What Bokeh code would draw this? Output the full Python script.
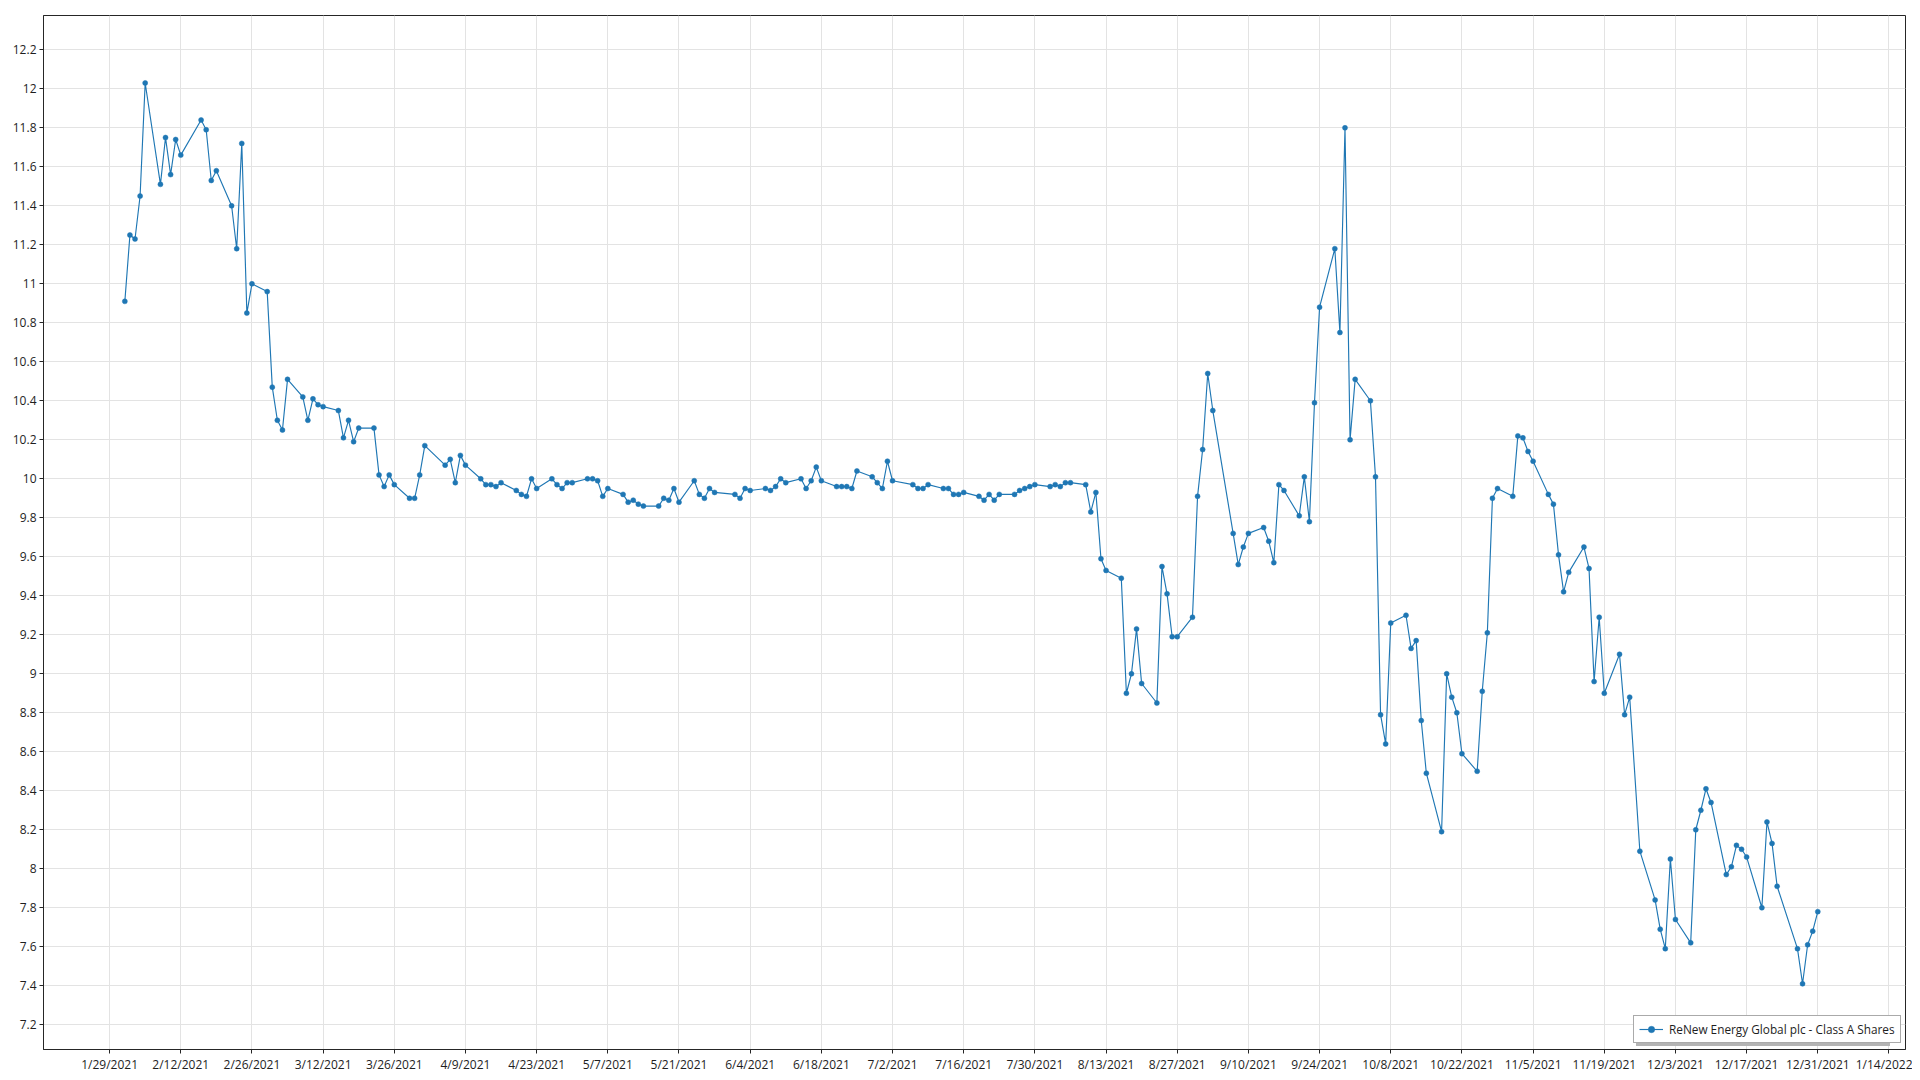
import pandas as pd
from bokeh.plotting import figure
from bokeh.models import Range1d, FixedTicker, Legend, LegendItem, ColumnDataSource
from bokeh.embed import file_html
from bokeh.resources import INLINE

series_name = "ReNew Energy Global plc - Class A Shares"

dates = [
    "2021-02-01", "2021-02-02", "2021-02-03", "2021-02-04", "2021-02-05",
    "2021-02-08", "2021-02-09", "2021-02-10", "2021-02-11", "2021-02-12",
    "2021-02-16", "2021-02-17", "2021-02-18", "2021-02-19",
    "2021-02-22", "2021-02-23", "2021-02-24", "2021-02-25", "2021-02-26",
    "2021-03-01", "2021-03-02", "2021-03-03", "2021-03-04", "2021-03-05",
    "2021-03-08", "2021-03-09", "2021-03-10", "2021-03-11", "2021-03-12",
    "2021-03-15", "2021-03-16", "2021-03-17", "2021-03-18", "2021-03-19",
    "2021-03-22", "2021-03-23", "2021-03-24", "2021-03-25", "2021-03-26",
    "2021-03-29", "2021-03-30", "2021-03-31", "2021-04-01",
    "2021-04-05", "2021-04-06", "2021-04-07", "2021-04-08", "2021-04-09",
    "2021-04-12", "2021-04-13", "2021-04-14", "2021-04-15", "2021-04-16",
    "2021-04-19", "2021-04-20", "2021-04-21", "2021-04-22", "2021-04-23",
    "2021-04-26", "2021-04-27", "2021-04-28", "2021-04-29", "2021-04-30",
    "2021-05-03", "2021-05-04", "2021-05-05", "2021-05-06", "2021-05-07",
    "2021-05-10", "2021-05-11", "2021-05-12", "2021-05-13", "2021-05-14",
    "2021-05-17", "2021-05-18", "2021-05-19", "2021-05-20", "2021-05-21",
    "2021-05-24", "2021-05-25", "2021-05-26", "2021-05-27", "2021-05-28",
    "2021-06-01", "2021-06-02", "2021-06-03", "2021-06-04",
    "2021-06-07", "2021-06-08", "2021-06-09", "2021-06-10", "2021-06-11",
    "2021-06-14", "2021-06-15", "2021-06-16", "2021-06-17", "2021-06-18",
    "2021-06-21", "2021-06-22", "2021-06-23", "2021-06-24", "2021-06-25",
    "2021-06-28", "2021-06-29", "2021-06-30", "2021-07-01", "2021-07-02",
    "2021-07-06", "2021-07-07", "2021-07-08", "2021-07-09",
    "2021-07-12", "2021-07-13", "2021-07-14", "2021-07-15", "2021-07-16",
    "2021-07-19", "2021-07-20", "2021-07-21", "2021-07-22", "2021-07-23",
    "2021-07-26", "2021-07-27", "2021-07-28", "2021-07-29", "2021-07-30",
    "2021-08-02", "2021-08-03", "2021-08-04", "2021-08-05", "2021-08-06",
    "2021-08-09", "2021-08-10", "2021-08-11", "2021-08-12", "2021-08-13",
    "2021-08-16", "2021-08-17", "2021-08-18", "2021-08-19", "2021-08-20",
    "2021-08-23", "2021-08-24", "2021-08-25", "2021-08-26", "2021-08-27",
    "2021-08-30", "2021-08-31", "2021-09-01", "2021-09-02", "2021-09-03",
    "2021-09-07", "2021-09-08", "2021-09-09", "2021-09-10",
    "2021-09-13", "2021-09-14", "2021-09-15", "2021-09-16", "2021-09-17",
    "2021-09-20", "2021-09-21", "2021-09-22", "2021-09-23", "2021-09-24",
    "2021-09-27", "2021-09-28", "2021-09-29", "2021-09-30", "2021-10-01",
    "2021-10-04", "2021-10-05", "2021-10-06", "2021-10-07", "2021-10-08",
    "2021-10-11", "2021-10-12", "2021-10-13", "2021-10-14", "2021-10-15",
    "2021-10-18", "2021-10-19", "2021-10-20", "2021-10-21", "2021-10-22",
    "2021-10-25", "2021-10-26", "2021-10-27", "2021-10-28", "2021-10-29",
    "2021-11-01", "2021-11-02", "2021-11-03", "2021-11-04", "2021-11-05",
    "2021-11-08", "2021-11-09", "2021-11-10", "2021-11-11", "2021-11-12",
    "2021-11-15", "2021-11-16", "2021-11-17", "2021-11-18", "2021-11-19",
    "2021-11-22", "2021-11-23", "2021-11-24", "2021-11-26",
    "2021-11-29", "2021-11-30", "2021-12-01", "2021-12-02", "2021-12-03",
    "2021-12-06", "2021-12-07", "2021-12-08", "2021-12-09", "2021-12-10",
    "2021-12-13", "2021-12-14", "2021-12-15", "2021-12-16", "2021-12-17",
    "2021-12-20", "2021-12-21", "2021-12-22", "2021-12-23",
    "2021-12-27", "2021-12-28", "2021-12-29", "2021-12-30", "2021-12-31",
]

prices = [
    10.91, 11.25, 11.23, 11.45, 12.03,
    11.51, 11.75, 11.56, 11.74, 11.66,
    11.84, 11.79, 11.53, 11.58,
    11.40, 11.18, 11.72, 10.85, 11.00,
    10.96, 10.47, 10.30, 10.25, 10.51,
    10.42, 10.30, 10.41, 10.38, 10.37,
    10.35, 10.21, 10.30, 10.19, 10.26,
    10.26, 10.02, 9.96, 10.02, 9.97,
    9.90, 9.90, 10.02, 10.17,
    10.07, 10.10, 9.98, 10.12, 10.07,
    10.00, 9.97, 9.97, 9.96, 9.98,
    9.94, 9.92, 9.91, 10.00, 9.95,
    10.00, 9.97, 9.95, 9.98, 9.98,
    10.00, 10.00, 9.99, 9.91, 9.95,
    9.92, 9.88, 9.89, 9.87, 9.86,
    9.86, 9.90, 9.89, 9.95, 9.88,
    9.99, 9.92, 9.90, 9.95, 9.93,
    9.92, 9.90, 9.95, 9.94,
    9.95, 9.94, 9.96, 10.00, 9.98,
    10.00, 9.95, 9.99, 10.06, 9.99,
    9.96, 9.96, 9.96, 9.95, 10.04,
    10.01, 9.98, 9.95, 10.09, 9.99,
    9.97, 9.95, 9.95, 9.97,
    9.95, 9.95, 9.92, 9.92, 9.93,
    9.91, 9.89, 9.92, 9.89, 9.92,
    9.92, 9.94, 9.95, 9.96, 9.97,
    9.96, 9.97, 9.96, 9.98, 9.98,
    9.97, 9.83, 9.93, 9.59, 9.53,
    9.49, 8.90, 9.00, 9.23, 8.95,
    8.85, 9.55, 9.41, 9.19, 9.19,
    9.29, 9.91, 10.15, 10.54, 10.35,
    9.72, 9.56, 9.65, 9.72,
    9.75, 9.68, 9.57, 9.97, 9.94,
    9.81, 10.01, 9.78, 10.39, 10.88,
    11.18, 10.75, 11.80, 10.20, 10.51,
    10.40, 10.01, 8.79, 8.64, 9.26,
    9.30, 9.13, 9.17, 8.76, 8.49,
    8.19, 9.00, 8.88, 8.80, 8.59,
    8.50, 8.91, 9.21, 9.90, 9.95,
    9.91, 10.22, 10.21, 10.14, 10.09,
    9.92, 9.87, 9.61, 9.42, 9.52,
    9.65, 9.54, 8.96, 9.29, 8.90,
    9.10, 8.79, 8.88, 8.09,
    7.84, 7.69, 7.59, 8.05, 7.74,
    7.62, 8.20, 8.30, 8.41, 8.34,
    7.97, 8.01, 8.12, 8.10, 8.06,
    7.80, 8.24, 8.13, 7.91,
    7.59, 7.41, 7.61, 7.68, 7.78,
]

x_tick_dates = [
    "2021-01-29", "2021-02-12", "2021-02-26", "2021-03-12", "2021-03-26",
    "2021-04-09", "2021-04-23", "2021-05-07", "2021-05-21", "2021-06-04",
    "2021-06-18", "2021-07-02", "2021-07-16", "2021-07-30", "2021-08-13",
    "2021-08-27", "2021-09-10", "2021-09-24", "2021-10-08", "2021-10-22",
    "2021-11-05", "2021-11-19", "2021-12-03", "2021-12-17", "2021-12-31",
    "2022-01-14",
]
x_tick_labels = [
    "1/29/2021", "2/12/2021", "2/26/2021", "3/12/2021", "3/26/2021",
    "4/9/2021", "4/23/2021", "5/7/2021", "5/21/2021", "6/4/2021",
    "6/18/2021", "7/2/2021", "7/16/2021", "7/30/2021", "8/13/2021",
    "8/27/2021", "9/10/2021", "9/24/2021", "10/8/2021", "10/22/2021",
    "11/5/2021", "11/19/2021", "12/3/2021", "12/17/2021", "12/31/2021",
    "1/14/2022",
]
y_ticks = [7.2, 7.4, 7.6, 7.8, 8.0, 8.2, 8.4, 8.6, 8.8, 9.0, 9.2, 9.4, 9.6,
           9.8, 10.0, 10.2, 10.4, 10.6, 10.8, 11.0, 11.2, 11.4, 11.6, 11.8,
           12.0, 12.2]
y_tick_labels = ["7.2", "7.4", "7.6", "7.8", "8", "8.2", "8.4", "8.6", "8.8",
                 "9", "9.2", "9.4", "9.6", "9.8", "10", "10.2", "10.4", "10.6",
                 "10.8", "11", "11.2", "11.4", "11.6", "11.8", "12", "12.2"]

FONT = "Open Sans"
BLUE = "#1f77b4"
TEXT = "#1e1e1e"
FRAME = "#262626"

src = ColumnDataSource(dict(x=pd.to_datetime(dates), y=prices))

p = figure(
    x_axis_type="datetime",
    frame_width=1862, frame_height=1034,
    min_border_left=43, min_border_top=15, min_border_right=7, min_border_bottom=10,
    x_range=Range1d(start=pd.Timestamp("2021-01-16"), end=pd.Timestamp("2022-01-17 06:00")),
    y_range=Range1d(start=7.073, end=12.376),
    output_backend="svg", toolbar_location=None,
    background_fill_color="white", border_fill_color="white",
)

line = p.line("x", "y", source=src, line_color=BLUE, line_width=1.15)
dots = p.scatter("x", "y", source=src, marker="circle", size=5,
                 fill_color=BLUE, line_color=BLUE, line_width=0.5)

# invisible renderer used only for the legend's drop shadow
shadow_r = p.line([], [], line_alpha=0)

x_ticks_ms = [pd.Timestamp(d).value // 10**6 for d in x_tick_dates]
p.xaxis.ticker = FixedTicker(ticks=x_ticks_ms)
p.xaxis.major_label_overrides = {t: l for t, l in zip(x_ticks_ms, x_tick_labels)}
p.yaxis.ticker = FixedTicker(ticks=y_ticks)
p.yaxis.major_label_overrides = {t: l for t, l in zip(y_ticks, y_tick_labels)}

for ax in (p.xaxis, p.yaxis):
    ax.major_label_text_font = FONT
    ax.major_label_text_font_size = "12px"
    ax.major_label_text_color = TEXT
    ax.axis_line_color = FRAME
    ax.major_tick_line_color = FRAME
    ax.major_tick_in = 0
    ax.major_tick_out = 4
    ax.minor_tick_line_color = None
p.xaxis.major_label_standoff = 2
p.yaxis.major_label_standoff = 3

p.xgrid.grid_line_color = "#e3e3e3"
p.ygrid.grid_line_color = "#e3e3e3"
p.xgrid.ticker = p.xaxis.ticker
p.ygrid.ticker = p.yaxis.ticker

p.outline_line_color = FRAME
p.outline_line_width = 1


def style_legend(lg):
    lg.label_text_font = FONT
    lg.label_text_font_size = "11.8px"
    lg.padding = 5
    lg.margin = 0
    lg.spacing = 0
    lg.glyph_width = 24
    lg.glyph_height = 16
    lg.label_height = 16
    lg.label_width = 224
    lg.label_standoff = 6


shadow = Legend(items=[LegendItem(label=" ", renderers=[shadow_r])],
                location=(1593, 3))
style_legend(shadow)
shadow.border_line_color = None
shadow.background_fill_color = "#b4b4b4"
shadow.background_fill_alpha = 1.0
p.add_layout(shadow)

legend = Legend(items=[LegendItem(label=series_name, renderers=[line, dots])],
                location=(1590, 6))
style_legend(legend)
legend.label_text_color = TEXT
legend.border_line_color = "#555555"
legend.border_line_width = 1.5
legend.background_fill_color = "white"
legend.background_fill_alpha = 1.0
p.add_layout(legend)

open("out.html", "w").write(file_html(p, INLINE))
